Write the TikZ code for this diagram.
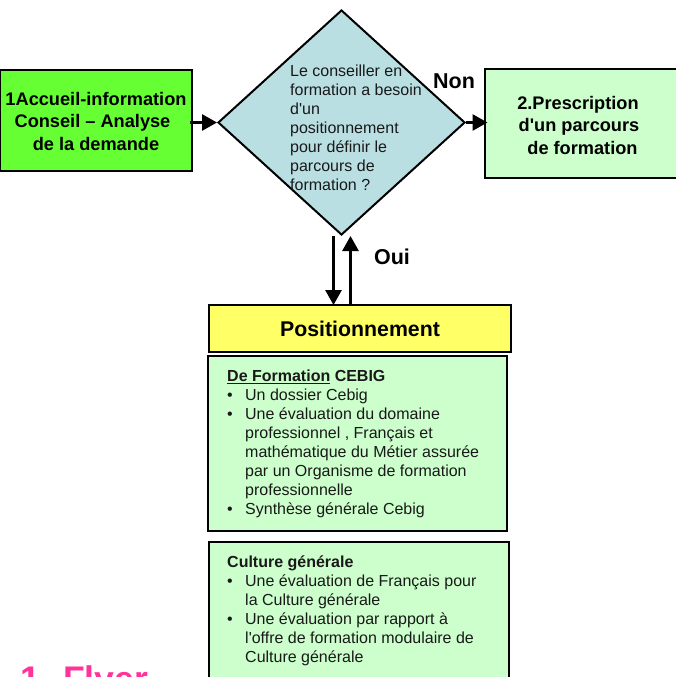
\documentclass[tikz,border=0pt]{standalone}
\usepackage{fontspec}
\setmainfont{Liberation Sans}[Ligatures=TeXOff]
\usetikzlibrary{shapes.geometric,arrows.meta,positioning}
\definecolor{limeg}{HTML}{66FF33}
\definecolor{paleg}{HTML}{CCFFCC}
\definecolor{paley}{HTML}{FFFF66}
\definecolor{paleb}{HTML}{B9DFE3}
\definecolor{flyerpink}{HTML}{FF3399}
\newcommand{\bul}{\makebox[18pt][l]{•}}
\newcommand{\ind}{\hspace*{18pt}}
\tikzset{
 x=1pt,y=-1pt,
 boxed/.style={draw=black,line width=2pt,inner sep=0pt,anchor=north west},
 head/.style={font=\fontsize{18.2}{22.5}\selectfont\bfseries,align=center,inner sep=0pt},
 body/.style={font=\fontsize{16}{19.1}\selectfont,align=left,inner sep=0pt,anchor=north west,text=black!90},
 lab/.style={font=\fontsize{21.5}{24}\selectfont\bfseries,inner sep=0pt},
 conn/.style={line width=2.8pt,-{Triangle[length=15pt,width=16pt]}}
}
\begin{document}
\begin{tikzpicture}
\useasboundingbox (0,0) rectangle (676,677);
\begin{scope}
\clip (0,0) rectangle (676,677);
\node[boxed,fill=limeg,minimum width=192pt,minimum height=100pt] (accueil) at (-1.5,69.5) {};
\node[draw=black,line width=2pt,fill=paleb,diamond,inner sep=0pt,minimum width=247pt,minimum height=225pt] (question) at (341.5,122.5) {};
\node[boxed,fill=paleg,minimum width=200pt,minimum height=108.5pt] (prescription) at (483.5,68.5) {};
\node[boxed,fill=paley,minimum width=302pt,minimum height=47pt] (posit) at (208,303.5) {};
\node[boxed,fill=paleg,minimum width=299pt,minimum height=175pt] (formation) at (207,354.5) {};
\node[boxed,fill=paleg,minimum width=300pt,minimum height=150pt] (culture) at (207.5,540.5) {};
\node[font=\fontsize{35.6}{40}\selectfont\bfseries,text=flyerpink,inner sep=0pt,anchor=base west] (flyer) at (20,691.5) {1. Flyer};
\end{scope}
\node[head] (t1) at (96,121) {1Accueil-information\\Conseil – Analyse\hspace*{7pt}\mbox{}\\de la demande};
\node[head] (t2) at (578,125) {2.Prescription\\\hspace*{2pt}d'un parcours\\\hspace*{9pt}de formation};
\node[body] (t3) at (290,64.5) {Le conseiller en\\formation a besoin\\d'un\\positionnement\\pour définir le\\parcours de\\formation ?};
\node[lab] (non) at (454,81) {Non};
\node[lab] (oui) at (392,257) {Oui};
\node[font=\fontsize{21.3}{24}\selectfont\bfseries,inner sep=0pt] (t4) at (360,329) {Positionnement};
\node[body] (t5) at (227,369.5) {\textbf{\underline{De Formation} CEBIG}\\\bul Un dossier Cebig\\\bul Une évaluation du domaine\\\ind professionnel , Français et\\\ind mathématique du Métier assurée\\\ind par un Organisme de formation\\\ind professionnelle\\\bul Synthèse générale Cebig};
\node[body] (t6) at (227,555.5) {\textbf{Culture générale}\\\bul Une évaluation de Français pour\\\ind la Culture générale\\\bul Une évaluation par rapport à\\\ind l'offre de formation modulaire de\\\ind Culture générale};
\coordinate (downA) at (333.5,236);
\coordinate (downB) at (333.5,305);
\coordinate (upA) at (350.5,306);
\coordinate (upB) at (350.5,236);
\draw[conn,shorten <=-3pt] (question.west -| accueil.east) -- (question.west);
\draw[conn,shorten >=-4pt] (question.east) -- (question.east -| prescription.west);
\draw[conn] (downA) -- (downB);
\draw[conn] (upA) -- (upB);
\end{tikzpicture}
\end{document}
